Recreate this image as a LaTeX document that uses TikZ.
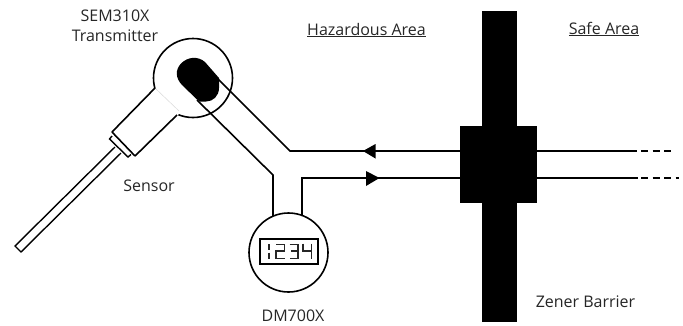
\documentclass[tikz,border=0pt]{standalone}
\usepackage{fontspec}
\setmainfont{Open Sans}
\tikzset{
  lbl/.style={font=\fontsize{16}{19}\selectfont, inner sep=0pt, text=black!85},
  ln/.style={line width=1.6pt, draw=black, line join=miter},
  dashln/.style={line width=1.5pt, draw=black, dash pattern=on 7pt off 4.5pt},
  ring/.style={circle, draw=black, line width=1.6pt, minimum size=79pt, inner sep=0pt},
  blackbox/.style={rectangle, fill=black, draw=none, inner sep=0pt},
  seg/.style={line width=1.3pt, draw=black!85}
}
\begin{document}
\begin{tikzpicture}[x=1pt,y=-1pt]
\useasboundingbox (0,0) rectangle (683,325);
\node[blackbox, minimum width=35pt, minimum height=311pt] (bar) at (499.5,166.5) {};
\node[blackbox, minimum width=77pt, minimum height=77pt] (zen) at (498.5,164.5) {};
\node[ring] (tx) at (193,78) {};
\node[ring] (dm) at (288.5,252.5) {};
\coordinate (a1) at (217,78);
\coordinate (a2) at (290,151);
\coordinate (a3) at (460,151);
\coordinate (b1) at (197,100);
\coordinate (b2) at (273,175);
\coordinate (b3) at (273,216);
\coordinate (c1) at (302,215);
\coordinate (c2) at (302,178);
\coordinate (c3) at (460,178);
\coordinate (r1) at (537,151);
\coordinate (r2) at (637,151);
\coordinate (r3) at (673,151);
\coordinate (s1) at (537,178);
\coordinate (s2) at (638,178);
\coordinate (s3) at (679,178);
\fill[white] (155,88) -- (180,113) -- (135,156) -- (112,132) -- cycle;
\draw[black!15, line width=.5pt] (155,88) -- (179,111);
\draw[ln] (155,88) -- (112,132);
\draw[ln] (177,115) -- (135,156);
\draw[ln] (112,132) -- (135,156);
\draw[ln, line width=1.4pt] (112,136) -- (109.5,139) -- (128,157) -- (131,154.5);
\draw[ln, line width=1.4pt] (115,147) -- (15,246) -- (21,252) -- (121,153);
\fill[black] (205,62) -- (219,78) -- (219,88)
  .. controls (219,96) and (213,101.5) .. (206,101.5)
  -- (200,101.5) -- (197,99.5) -- (182,85)
  .. controls (175.5,78) and (175,70) .. (181,63.5)
  .. controls (188,56.5) and (198,56) .. (205,62) -- cycle;
\draw[ln] (a1) -- (a2) -- (a3);
\draw[ln] (b1) -- (b2) -- (b3);
\draw[ln] (c1) -- (c2) -- (c3);
\draw[ln] (r1) -- (r2);
\draw[ln] (s1) -- (s2);
\draw[dashln] (641,151) -- (r3);
\draw[dashln] (641,178) -- (s3);
\fill (363,151) -- (375.5,144) -- (375.5,158.5) -- cycle;
\fill (379.5,178) -- (366,171) -- (366,186) -- cycle;
\node[rectangle, draw=black, line width=1.6pt, minimum width=58pt, minimum height=25pt, inner sep=0pt] (disp) at (289,251.5) {};
\draw[seg] (269,244) -- (269,250);
\draw[seg] (269,252.5) -- (269,258.5);
\draw[seg] (276,244.5) -- (284.5,244.5) -- (284.5,251) -- (276,251) -- (276,258.5) -- (284.5,258.5);
\draw[seg] (289.5,244.5) -- (298,244.5) -- (298,258.5) -- (289.5,258.5);
\draw[seg] (291,251) -- (298,251);
\draw[seg] (303,243.5) -- (303,251) -- (311.5,251);
\draw[seg] (311.5,243.5) -- (311.5,258.5);
\node[lbl] (t1) at (115,15.5) {SEM310X};
\node[lbl] (t2) at (115,36) {Transmitter};
\node[lbl] (t3) at (149,186) {Sensor};
\node[lbl] (t4) at (293,315.5) {DM700X};
\node[lbl] (t5) at (366.5,30) {\underline{Hazardous Area}};
\node[lbl] (t6) at (604,29) {\underline{Safe Area}};
\node[lbl] (t7) at (585.5,302) {Zener Barrier};
\end{tikzpicture}
\end{document}
